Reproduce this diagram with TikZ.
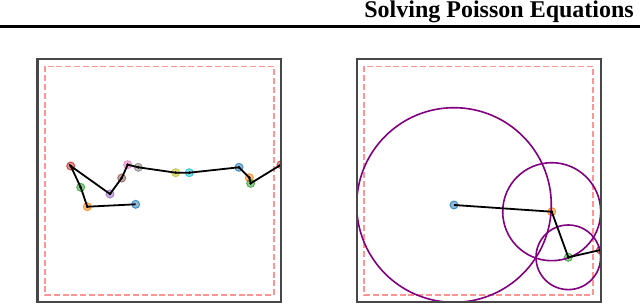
\documentclass[tikz,border=0pt]{standalone}
\usepackage{fontspec}
\setmainfont{Liberation Serif}
\definecolor{tC0}{HTML}{1F77B4}
\definecolor{tC1}{HTML}{FF7F0E}
\definecolor{tC2}{HTML}{2CA02C}
\definecolor{tC3}{HTML}{D62728}
\definecolor{tC4}{HTML}{9467BD}
\definecolor{tC5}{HTML}{8C564B}
\definecolor{tC6}{HTML}{E377C2}
\definecolor{tC7}{HTML}{7F7F7F}
\definecolor{tC8}{HTML}{BCBD22}
\definecolor{tC9}{HTML}{17BECF}
\definecolor{wospurple}{HTML}{800080}
\tikzset{
  panelbox/.style={draw=black!72, line width=2.2pt},
  dashbox/.style={draw=red!42, line width=1.7pt, dash pattern=on 6pt off 2.8pt},
  mk/.style={circle, inner sep=0pt, minimum size=8pt, draw=#1, draw opacity=0.75, fill=#1, fill opacity=0.5, line width=1pt},
  walk/.style={draw=black, line width=1.8pt},
  wos/.style={draw=wospurple, line width=1.6pt},
  dotk/.style={fill=black}
}
\begin{document}
\begin{tikzpicture}[x=1pt,y=-1pt]
\useasboundingbox (0,0) rectangle (640,304);
% header
\node[anchor=base east, inner sep=0pt, font=\fontsize{24}{24}\selectfont\bfseries] (title) at (634,17.3) {Solving Poisson Equations};
\draw[line width=2.4pt] (0,26.5) -- (640,26.5);

% ---------- left panel ----------
\begin{scope}
\clip (38,59.5) rectangle (280.5,302);
\draw[dashbox] (45,66.5) rectangle (273.7,295.3);
\node[mk=tC0] (a1) at (135.7,204.3) {};
\node[mk=tC1] (a2) at (87.3,206.7) {};
\node[mk=tC2] (a3) at (80.7,187.3) {};
\node[mk=tC3] (a4) at (70.7,166) {};
\node[mk=tC4] (a5) at (110,194) {};
\node[mk=tC5] (a6) at (121.7,178) {};
\node[mk=tC6] (a7) at (127.7,164.7) {};
\node[mk=tC7] (a8) at (138.3,167.3) {};
\node[mk=tC8] (a9) at (175.7,172.7) {};
\node[mk=tC9] (a10) at (189.3,172.7) {};
\node[mk=tC0] (a11) at (239,167.3) {};
\node[mk=tC1] (a12) at (249.3,177.7) {};
\node[mk=tC2] (a13) at (250.7,183.3) {};
\node[mk=tC3] (a14) at (281,164.7) {};
\draw[walk] (a1.center) -- (a2.center) -- (a3.center) -- (a4.center) -- (a5.center) -- (a6.center) -- (a7.center) -- (a8.center) -- (a9.center) -- (a10.center) -- (a11.center) -- (a12.center) -- (a13.center) -- (a14.center);
\foreach \p in {a2,a3,a4,a5,a6,a7,a8,a9,a10,a11,a12,a13,a14}
  \fill[dotk] (\p.center) circle (1.5pt);
\end{scope}
\draw[panelbox] (37.5,59) rectangle (281,302.3);

% ---------- right panel ----------
\begin{scope}
\clip (357.5,59.5) rectangle (600.5,302);
\draw[dashbox] (364.3,66.5) rectangle (593,295.3);
\node[mk=tC0] (b1) at (454,205) {};
\node[mk=tC1] (b2) at (551.7,211.7) {};
\node[mk=tC2] (b3) at (568.3,257.3) {};
\node[mk=tC3] (b4) at (600.5,250) {};
\draw[wos] (b1.center) circle (97.3pt);
\draw[wos] (b2.center) circle (49pt);
\draw[wos] (b3.center) circle (32.3pt);
\draw[walk] (b1.center) -- (b2.center) -- (b3.center) -- (b4.center);
\foreach \p in {b2,b3,b4}
  \fill[dotk] (\p.center) circle (1.5pt);
\end{scope}
\draw[panelbox] (357,59) rectangle (600.8,302.3);
\end{tikzpicture}
\end{document}
